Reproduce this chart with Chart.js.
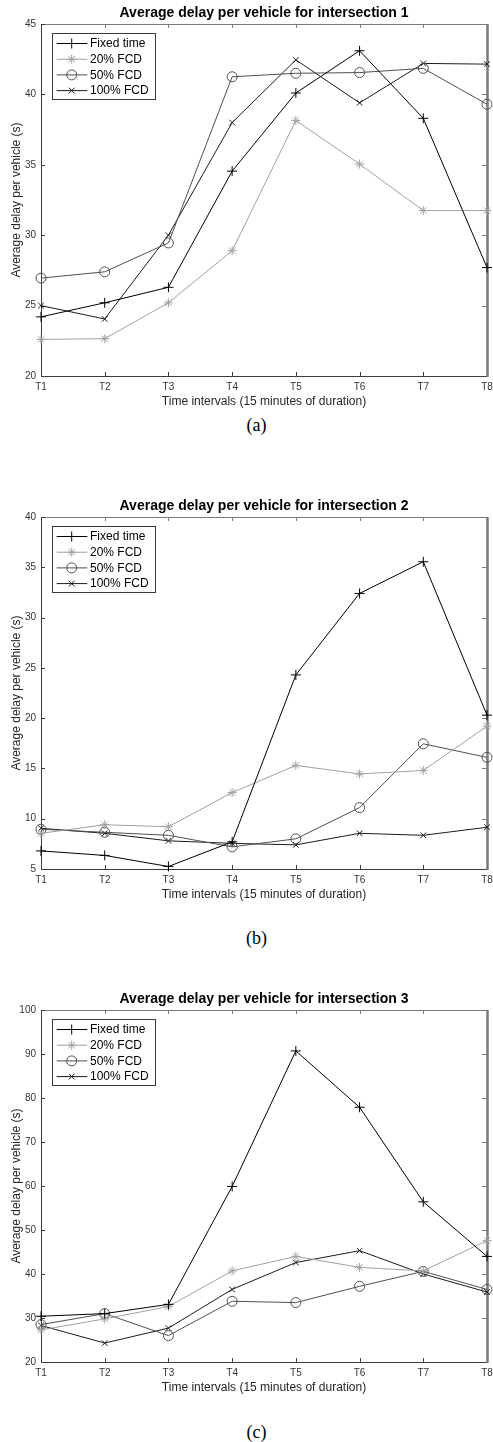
<!DOCTYPE html>
<html>
<head>
<meta charset="utf-8">
<script src="https://cdn.jsdelivr.net/npm/chart.js@4/dist/chart.umd.min.js"></script>
<style>
  body { margin: 0; background: #fff; width: 493px; height: 1442px; position: relative; overflow: hidden; }
  canvas { position: absolute; left: 0; }
  .cap { position: absolute; left: 0; width: 513px; text-align: center;
         font: 18px 'Liberation Serif', 'Times New Roman', serif; line-height: 20px; color: #000; }
</style>
</head>
<body>
<canvas id="c1" width="493" height="412" style="top:0px"></canvas>
<div class="cap" style="top:415px">(a)</div>
<canvas id="c2" width="493" height="412" style="top:493px"></canvas>
<div class="cap" style="top:928px">(b)</div>
<canvas id="c3" width="493" height="412" style="top:986px"></canvas>
<div class="cap" style="top:1422px">(c)</div>

<script>
const intervals = ['T1', 'T2', 'T3', 'T4', 'T5', 'T6', 'T7', 'T8'];
const seriesNames = ['Fixed time', '20% FCD', '50% FCD', '100% FCD'];

// intersection 1
const fixed1   = [24.2, 25.2, 26.3, 34.55, 40.1, 43.1, 38.3, 27.7];
const fcd20_1  = [22.6, 22.65, 25.2, 28.9, 38.15, 35.05, 31.75, 31.75];
const fcd50_1  = [26.95, 27.4, 29.45, 41.25, 41.5, 41.55, 41.85, 39.3];
const fcd100_1 = [25.0, 24.05, 30.0, 38.0, 42.45, 39.4, 42.2, 42.15];

// intersection 2
const fixed2   = [6.8, 6.35, 5.25, 7.7, 24.3, 32.4, 35.55, 20.3];
const fcd20_2  = [8.55, 9.4, 9.2, 12.6, 15.3, 14.45, 14.8, 19.2];
const fcd50_2  = [8.95, 8.65, 8.35, 7.2, 8.0, 11.1, 17.45, 16.1];
const fcd100_2 = [9.05, 8.55, 7.8, 7.55, 7.4, 8.55, 8.35, 9.15];

// intersection 3
const fixed3   = [30.4, 31.0, 33.1, 59.9, 90.7, 77.9, 56.4, 44.0];
const fcd20_3  = [27.3, 29.8, 32.6, 40.7, 44.0, 41.5, 40.7, 47.6];
const fcd50_3  = [28.5, 31.0, 26.0, 33.8, 33.5, 37.2, 40.6, 36.5];
const fcd100_3 = [28.3, 24.3, 27.7, 36.5, 42.6, 45.3, 40.0, 35.9];

const yRange1 = [20, 45, 5];
const yRange2 = [5, 40, 5];
const yRange3 = [20, 100, 10];

const FONT = "'Liberation Sans', Arial, Helvetica, sans-serif";
const colors = ['#000000', '#a0a0a0', '#505050', '#1a1a1a'];
const styles = ['cross', 'star', 'circle', 'crossRot'];
const radii = [5, 4.5, 5, 4];

function marker(ctx, style, x, y, r) {
  ctx.beginPath();
  const d = r * 0.707;
  if (style === 'cross' || style === 'star') {
    ctx.moveTo(x - r, y); ctx.lineTo(x + r, y);
    ctx.moveTo(x, y - r); ctx.lineTo(x, y + r);
  }
  if (style === 'crossRot' || style === 'star') {
    ctx.moveTo(x - d, y - d); ctx.lineTo(x + d, y + d);
    ctx.moveTo(x - d, y + d); ctx.lineTo(x + d, y - d);
  }
  if (style === 'circle') ctx.arc(x, y, r, 0, Math.PI * 2);
  ctx.stroke();
}

const matlabAxes = {
  id: 'matlabAxes',
  beforeDatasetsDraw(chart) {
    const {ctx, chartArea: a, scales: {x, y}} = chart;
    ctx.save();
    ctx.lineWidth = 1;
    // top edge + top/right ticks, lighter grey
    ctx.strokeStyle = '#7a7a7a';
    ctx.beginPath();
    ctx.moveTo(a.left, a.top + 0.5);
    ctx.lineTo(a.right, a.top + 0.5);
    x.ticks.forEach((t, i) => {
      const px = Math.round(x.getPixelForValue(i)) + 0.5;
      ctx.moveTo(px, a.top); ctx.lineTo(px, a.top + 4);
    });
    y.ticks.forEach(t => {
      const py = Math.round(y.getPixelForValue(t.value)) + 0.5;
      ctx.moveTo(a.right, py); ctx.lineTo(a.right - 5, py);
    });
    ctx.stroke();
    // left and bottom axes, darker
    ctx.strokeStyle = '#3c3c3c';
    ctx.beginPath();
    ctx.moveTo(a.left + 0.5, a.top);
    ctx.lineTo(a.left + 0.5, a.bottom + 0.5);
    ctx.lineTo(a.right, a.bottom + 0.5);
    x.ticks.forEach((t, i) => {
      const px = Math.round(x.getPixelForValue(i)) + 0.5;
      ctx.moveTo(px, a.bottom); ctx.lineTo(px, a.bottom - 4);
    });
    y.ticks.forEach(t => {
      const py = Math.round(y.getPixelForValue(t.value)) + 0.5;
      ctx.moveTo(a.left, py); ctx.lineTo(a.left + 4, py);
    });
    ctx.stroke();
    ctx.lineWidth = 2.5;
    ctx.strokeStyle = '#7a7a7a';
    ctx.beginPath();
    ctx.moveTo(a.right + 0.5, a.top); ctx.lineTo(a.right + 0.5, a.bottom + 1);
    ctx.stroke();
    ctx.restore();
  },
  afterDatasetsDraw(chart, args, opts) {
    const {ctx, chartArea: a} = chart;
    ctx.save();
    // title
    ctx.fillStyle = '#000';
    ctx.font = 'bold 14px ' + FONT;
    ctx.textAlign = 'center';
    ctx.textBaseline = 'middle';
    ctx.fillText(opts.title, (a.left + a.right) / 2, a.top - 11);
    // legend
    const bx = a.left + 11, by = a.top + 9, bw = 103, bh = 66;
    ctx.fillStyle = '#fff';
    ctx.fillRect(bx, by, bw, bh);
    ctx.strokeStyle = '#3a3a3a';
    ctx.lineWidth = 1;
    ctx.strokeRect(bx + 0.5, by + 0.5, bw, bh);
    ctx.font = '12px ' + FONT;
    ctx.textAlign = 'left';
    chart.data.datasets.forEach((ds, i) => {
      const ly = by + 10.5 + i * 15.7;
      ctx.strokeStyle = ds.borderColor;
      ctx.beginPath();
      ctx.moveTo(bx + 4.7, ly); ctx.lineTo(bx + 35.3, ly);
      ctx.stroke();
      marker(ctx, ds.pointStyle, bx + 19.7, ly, ds.pointRadius);
      ctx.fillStyle = '#000';
      ctx.fillText(ds.label, bx + 38, ly + 0.5);
    });
    ctx.restore();
  }
};

function makeChart(id, title, values, range) {
  new Chart(document.getElementById(id), {
    type: 'line',
    data: {
      labels: intervals,
      datasets: values.map((v, i) => ({
        label: seriesNames[i],
        data: v,
        borderColor: colors[i],
        backgroundColor: 'rgba(0,0,0,0)',
        pointBorderColor: colors[i],
        pointBackgroundColor: 'rgba(0,0,0,0)',
        pointStyle: styles[i],
        pointRadius: radii[i],
        pointBorderWidth: 1,
        borderWidth: 1,
        tension: 0,
        clip: false
      }))
    },
    options: {
      responsive: false,
      animation: false,
      events: [],
      layout: { padding: { top: 24, right: 5, left: 0, bottom: 0 } },
      plugins: {
        legend: { display: false },
        tooltip: { enabled: false },
        matlabAxes: { title: title }
      },
      scales: {
        x: {
          offset: false,
          grid: { display: false, drawTicks: false },
          border: { display: false },
          ticks: { color: '#333', font: { family: FONT, size: 10 }, padding: 5, maxRotation: 0, autoSkip: false },
          title: { display: true, text: 'Time intervals (15 minutes of duration)', color: '#262626',
                   font: { family: FONT, size: 12 }, padding: { top: 0, bottom: 3 } },
          afterFit(s) { s.height = 36; s.paddingLeft = 0; s.paddingRight = 0; }
        },
        y: {
          min: range[0], max: range[1],
          grid: { display: false, drawTicks: false },
          border: { display: false },
          ticks: { stepSize: range[2], color: '#333', font: { family: FONT, size: 10 }, padding: 5 },
          title: { display: true, text: 'Average delay per vehicle (s)', color: '#262626',
                   font: { family: FONT, size: 12 }, padding: { top: 9, bottom: 0 } },
          afterFit(s) { s.width = 41; s.paddingTop = 0; s.paddingBottom = 0; }
        }
      }
    },
    plugins: [matlabAxes]
  });
}

makeChart('c1', 'Average delay per vehicle for intersection 1', [fixed1, fcd20_1, fcd50_1, fcd100_1], yRange1);
makeChart('c2', 'Average delay per vehicle for intersection 2', [fixed2, fcd20_2, fcd50_2, fcd100_2], yRange2);
makeChart('c3', 'Average delay per vehicle for intersection 3', [fixed3, fcd20_3, fcd50_3, fcd100_3], yRange3);
</script>
</body>
</html>
